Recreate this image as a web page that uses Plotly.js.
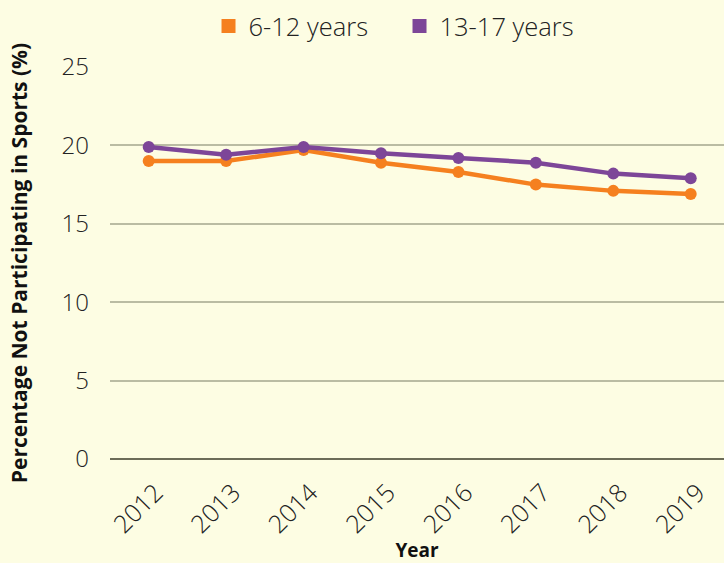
<!DOCTYPE html>
<html>
<head>
<meta charset="utf-8">
<script src="https://cdn.plot.ly/plotly-3.0.1.min.js"></script>
<style>html,body{margin:0;padding:0;background:#fdfde3;}</style>
</head>
<body>
<div id="chart" style="width:724px;height:563px;"></div>
<script>
const years = ["2012","2013","2014","2015","2016","2017","2018","2019"];
const kids6to12 = [19.0, 19.0, 19.7, 18.9, 18.3, 17.5, 17.1, 16.9];
const teens13to17 = [19.9, 19.4, 19.9, 19.5, 19.2, 18.9, 18.2, 17.9];
const seriesNames = ["6-12 years", "13-17 years"];
const yTicks = [0, 5, 10, 15, 20, 25];

const orange = "#f5801f";
const purple = "#7d4698";

const traces = [
  {x: years, y: kids6to12, type: "scatter", mode: "lines+markers", name: seriesNames[0],
   line: {color: orange, width: 4.5}, marker: {color: orange, size: 12}, showlegend: false},
  {x: years, y: teens13to17, type: "scatter", mode: "lines+markers", name: seriesNames[1],
   line: {color: purple, width: 4.5}, marker: {color: purple, size: 12}, showlegend: false},
  {x: [null], y: [null], type: "scatter", mode: "markers", name: seriesNames[0],
   marker: {color: orange, symbol: "square", size: 14}},
  {x: [null], y: [null], type: "scatter", mode: "markers", name: seriesNames[1],
   marker: {color: purple, symbol: "square", size: 14}}
];

const layout = {
  width: 724, height: 563,
  paper_bgcolor: "#fdfde3", plot_bgcolor: "#fdfde3",
  margin: {l: 110, r: 0, t: 67, b: 104},
  font: {family: "Open Sans", color: "#222222"},
  showlegend: true,
  legend: {orientation: "h", xref: "container", x: 0.288, xanchor: "left", y: 0.995, yanchor: "top",
           yref: "container", font: {family: "Open Sans", size: 25.5, weight: 300, color: "#222"},
           itemwidth: 30, entrywidth: 146, tracegroupgap: 0, bgcolor: "rgba(0,0,0,0)"},
  xaxis: {type: "category", categoryorder: "array", categoryarray: years,
          range: [-0.5, 7.43], showgrid: false, showline: false, zeroline: false,
          tickangle: -45, ticks: "", ticklabelstandoff: 13, ticklabelshift: 7,
          tickfont: {family: "Open Sans", size: 25, weight: 300, color: "#222"},
          title: {text: "Year", font: {family: "Open Sans", size: 19, weight: 700, color: "#111"}, standoff: 10}},
  yaxis: {range: [0, 25], tickvals: yTicks, showgrid: true, gridcolor: "#babca3", gridwidth: 2,
          zeroline: true, zerolinecolor: "#6c6c58", zerolinewidth: 2, showline: false,
          ticks: "", ticklabelstandoff: 20,
          tickfont: {family: "Open Sans", size: 24, weight: 300, color: "#222"},
          title: {text: "Percentage Not Participating in Sports (%)",
                  font: {family: "Open Sans", size: 21, weight: 700, color: "#111"}, standoff: 28}}
};

Plotly.newPlot("chart", traces, layout, {displayModeBar: false, staticPlot: true});
</script>
</body>
</html>
